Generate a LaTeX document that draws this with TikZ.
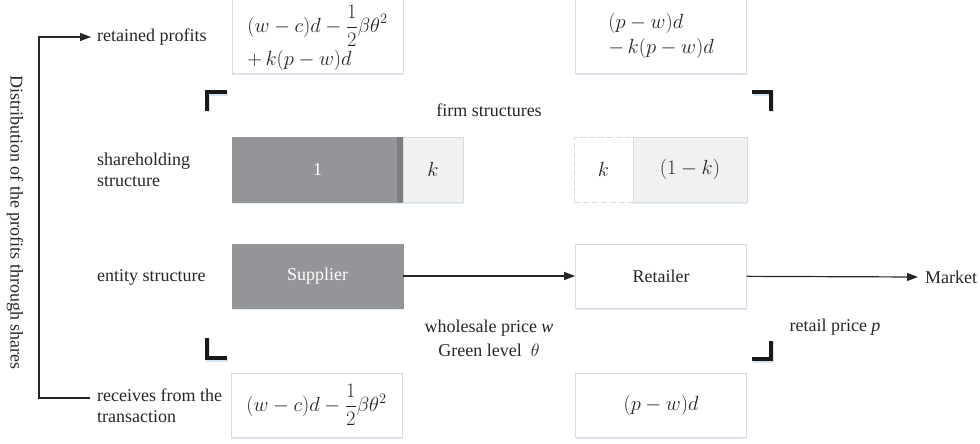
\RequirePackage{fix-cm}
\documentclass[tikz,border=0pt]{standalone}
\usepackage{fontspec}
\setmainfont{Liberation Serif}
\usetikzlibrary{arrows.meta,shadows}
\definecolor{dark}{HTML}{939598}
\definecolor{darker}{HTML}{7E7F7B}
\definecolor{lightf}{HTML}{F0F1F3}
\definecolor{bord}{HTML}{D8DCE0}
\definecolor{shad}{HTML}{C9DDF2}
\definecolor{ink}{HTML}{262626}
\newcommand{\mfs}{\fontsize{20.5}{24}\selectfont}
\begin{document}
\begin{tikzpicture}[x=1pt,y=-1pt,
  font=\fontsize{18}{21}\selectfont,
  every node/.style={text=ink},
  plainbox/.style={draw=bord, line width=0.8pt, fill=white, minimum width=171pt, minimum height=64pt, inner sep=0pt, align=left},
  box/.style={plainbox, drop shadow={shadow xshift=0pt, shadow yshift=-2pt, fill=shad, opacity=0.6}},
  darkbox/.style={box, fill=dark, draw=dark, text=white},
  lightbox/.style={box, fill=lightf},
  lbl/.style={inner sep=0pt, anchor=west, align=left},
  conn/.style={draw=ink, line width=1.2pt, -{Triangle[length=11pt,width=8pt]}},
  brk/.style={line width=4pt, draw=black!90, line cap=butt, line join=miter},
  brkshadow/.style={line width=4pt, draw=shad, opacity=0.8}
]
\useasboundingbox (0,0) rectangle (980,444);

% top row: retained profits
\node[box, minimum height=75pt] (tl) at (317.5,35.5) {};
\node[font=\mfs, align=left, inner sep=0pt] (tlt) at (317.5,38)
  {$\displaystyle (w-c)d-\frac{1}{2}\beta\theta^2$\\[3pt]$+\,k(p-w)d$};
\node[box, minimum height=75pt, font=\mfs] (tr) at (661,35.5)
  {$(p-w)d$\\[1pt]$-\,k(p-w)d$};

% brackets
\draw[brkshadow] (208,112) -- (208,94) -- (228,94);
\draw[brkshadow] (753,94) -- (772,94) -- (772,112);
\draw[brkshadow] (208,339) -- (208,360) -- (228,360);
\draw[brkshadow] (753,361) -- (772,361) -- (772,342);
\draw[brk] (207,111) -- (207,92) -- (227,92);
\draw[brk] (752,92) -- (771,92) -- (771,111);
\draw[brk] (207,338) -- (207,358) -- (227,358);
\draw[brk] (752,359) -- (771,359) -- (771,341);

\node (firm) at (489,110) {firm structures};

% shareholding row
\node[darkbox, minimum height=65pt] (one) at (317.5,169.5) {1};
\fill[darker] (397,137) rectangle (403,202);
\node[lightbox, minimum width=60pt, minimum height=65pt, font=\mfs] (k1) at (433,169.5) {$k$};
\node[plainbox, dashed, dash pattern=on 6pt off 3pt, minimum width=59pt, minimum height=65pt, font=\mfs] (k2) at (603.5,169.5) {$k$};
\node[lightbox, minimum width=114pt, minimum height=65pt, font=\mfs] (omk) at (690,169.5) {$(1-k)$};

% entity row
\node[darkbox] (sup) at (317.5,276) {Supplier};
\node[box] (ret) at (661,276) {Retailer};
\node[lbl] (mkt) at (925,277) {Market};
\draw[conn] (sup) -- (ret);
\draw[conn] (ret) -- ([xshift=-7pt]mkt.west);

\node[align=center] (wl) at (489,338) {wholesale price \textit{w}\\[3pt]Green level\ \ $\theta$};
\node (rl) at (835,327) {retail price \textit{p}};

% bottom row
\node[box, font=\mfs] (bl) at (316.5,405) {$\displaystyle (w-c)d-\frac{1}{2}\beta\theta^2$};
\node[box, font=\mfs] (br) at (661,405) {$(p-w)d$};

% left labels
\node[lbl] (retl) at (97,37) {retained profits};
\node[lbl] (shl) at (97,170) {shareholding\\structure};
\node[lbl] (entl) at (97,277) {entity structure};
\node[lbl] (recl) at (97,405.5) {receives from the\\transaction};

\node[rotate=-90] (dist) at (15,222.5) {Distribution of the profits through shares};

\coordinate (b1) at (90,398);
\coordinate (vx) at (39,398);
\draw[conn] (b1) -- (vx) |- ([xshift=-6pt]retl.west);
\end{tikzpicture}
\end{document}
